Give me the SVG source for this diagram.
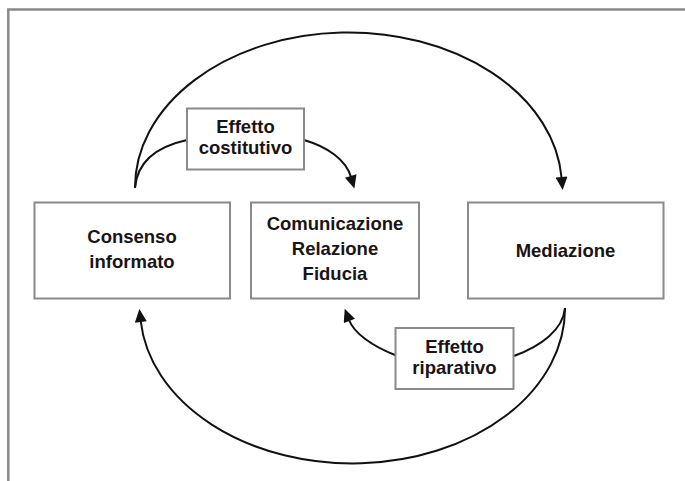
<svg xmlns="http://www.w3.org/2000/svg" width="685" height="481" viewBox="0 0 685 481">
  <style>
    .frame { fill: none; stroke: #8a8a8a; stroke-width: 2.5; }
    .box { fill: #ffffff; stroke: #8a8a8a; stroke-width: 2; }
    .lbl { font-family: "Liberation Sans", Arial, sans-serif; font-weight: bold; font-size: 18.5px; fill: #1a1414; text-anchor: middle; }
    .conn { fill: none; stroke: #111111; stroke-width: 2; }
  </style>
  <defs>
    <marker id="ah" markerUnits="userSpaceOnUse" markerWidth="14" markerHeight="12" refX="1" refY="6" orient="auto" viewBox="0 0 13 12">
      <path d="M0,0 L13,6 L0,12 z" fill="#111111"/>
    </marker>
  </defs>
  <rect width="685" height="481" fill="#ffffff"/>
  <path class="frame" d="M8.3,481 L8.3,9.5 L685,9.5"/>

  <g id="connectors">
    <path class="conn" d="M135,188 A213.5,155 0 0 1 561.6,178" marker-end="url(#ah)"/>
    <path class="conn" d="M135,188 C137,163 155,147 187,140"/>
    <path class="conn" d="M304,140 C328,147 346,160 351,177" marker-end="url(#ah)"/>
    <path class="conn" d="M565,308 A212.5,155 0 0 1 140.7,321" marker-end="url(#ah)"/>
    <path class="conn" d="M514,356 C541,346 563,330 565,308"/>
    <path class="conn" d="M395,355 C372,346 354,333 349,320" marker-end="url(#ah)"/>
  </g>

  <g id="consenso">
    <rect class="box" x="34.5" y="202.5" width="195.5" height="96"/>
    <text class="lbl" x="132" y="243">Consenso</text>
    <text class="lbl" x="132" y="268">informato</text>
  </g>
  <g id="comunicazione">
    <rect class="box" x="251" y="202.5" width="168" height="96"/>
    <text class="lbl" x="335" y="230">Comunicazione</text>
    <text class="lbl" x="335" y="255">Relazione</text>
    <text class="lbl" x="335" y="280">Fiducia</text>
  </g>
  <g id="mediazione">
    <rect class="box" x="468" y="202.5" width="195.5" height="96"/>
    <text class="lbl" x="565.5" y="256.5">Mediazione</text>
  </g>
  <g id="effetto-costitutivo">
    <rect class="box" x="187" y="108.5" width="117" height="61"/>
    <text class="lbl" x="245.5" y="133">Effetto</text>
    <text class="lbl" x="245.5" y="154">costitutivo</text>
  </g>
  <g id="effetto-riparativo">
    <rect class="box" x="395.5" y="328" width="118" height="61"/>
    <text class="lbl" x="454.5" y="353">Effetto</text>
    <text class="lbl" x="454.5" y="374">riparativo</text>
  </g>
</svg>
